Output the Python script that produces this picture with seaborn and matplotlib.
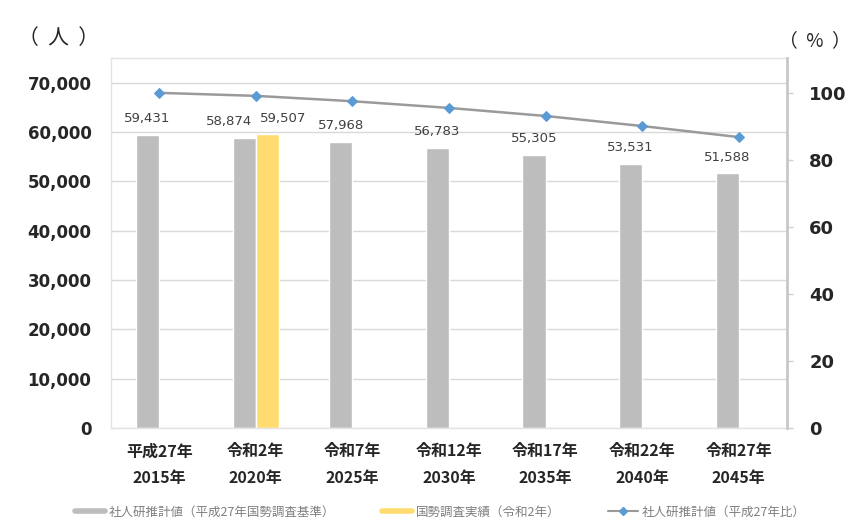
import numpy as np
import pandas as pd
import matplotlib
matplotlib.use("Agg")
import matplotlib.pyplot as plt
from matplotlib.lines import Line2D
import seaborn as sns

# data
categories = ["平成27年\n2015年", "令和2年\n2020年", "令和7年\n2025年", "令和12年\n2030年",
              "令和17年\n2035年", "令和22年\n2040年", "令和27年\n2045年"]
projection = [59431, 58874, 57968, 56783, 55305, 53531, 51588]
census_cat = ["令和2年\n2020年"]
census = [59507]
ratio_pct = [100, 99.1, 97.5, 95.5, 93.1, 90.1, 86.8]

s_proj = "社人研推計値（平成27年国勢調査基準）"
s_census = "国勢調査実績（令和2年）"
s_ratio = "社人研推計値（平成27年比）"

bar_df = pd.concat([
    pd.DataFrame({"cat": categories, "value": projection, "series": s_proj}),
    pd.DataFrame({"cat": census_cat, "value": census, "series": s_census}),
], ignore_index=True)

sns.set_theme(style="white")
plt.rcParams['font.family'] = ['Noto Sans CJK JP', 'DejaVu Sans']

gray = "#bdbdbd"
yellow = "#ffdb70"
line_col = "#9a9a9a"
marker_col = "#5b9bd5"
grid_col = "#d9d9d9"

fig = plt.figure(figsize=(8.53, 5.32), dpi=100)
ax = fig.add_axes([0.130, 0.1955, 0.7926, 0.6955])

sns.barplot(data=bar_df, x="cat", y="value", hue="series", order=categories,
            hue_order=[s_proj, s_census], palette=[gray, yellow],
            width=0.48, dodge=True, saturation=1, legend=False, ax=ax)

ax.set_xlim(-0.5, len(categories) - 0.5)
ax.set_ylim(0, 75000)
ax.set_yticks(np.arange(0, 70001, 10000))
ax.set_yticklabels([f"{v:,}" for v in range(0, 70001, 10000)],
                   family="DejaVu Sans", fontweight="bold", fontsize=12, color="#262626")
ax.yaxis.grid(True, color=grid_col, lw=1)
ax.set_axisbelow(True)
ax.set_xlabel("")
ax.set_ylabel("")
ax.tick_params(axis="y", length=0, pad=14)
ax.tick_params(axis="x", length=0, pad=11)
for lab in ax.get_xticklabels():
    lab.set_fontweight("bold")
    lab.set_fontsize(11.5)
    lab.set_color("#262626")
    lab.set_linespacing(1.85)
    lab.set_verticalalignment("top")
for side in ["left", "top", "bottom"]:
    ax.spines[side].set_color("#e3e3e3")
    ax.spines[side].set_linewidth(1)
ax.spines["right"].set_visible(False)

# data labels on bars (the two 2020 labels are pushed apart)
for i, cont in enumerate(ax.containers):
    for j, rect in enumerate(cont):
        h = rect.get_height()
        if np.isnan(h):
            continue
        cx = rect.get_x() + rect.get_width() / 2
        dx = 0
        if i == 0 and j == 1:
            dx = -11
        if i == 1:
            dx = 11
        ax.annotate(f"{int(h):,}", (cx, h), xytext=(dx, 7), textcoords="offset points",
                    ha="center", va="bottom", fontsize=9.5, family="DejaVu Sans",
                    color="#404040")

ax2 = ax.twinx()
sns.lineplot(x=np.arange(len(categories)), y=ratio_pct, ax=ax2, color=line_col, lw=1.8,
             marker="D", markersize=5.5, markerfacecolor=marker_col,
             markeredgecolor=marker_col)
ax2.set_ylim(0, 110.4)
ax2.set_yticks(range(0, 101, 20))
ax2.set_yticklabels([str(v) for v in range(0, 101, 20)], family="DejaVu Sans",
                    fontweight="bold", fontsize=13, color="#262626")
ax2.tick_params(axis="y", length=4, width=1, color="#d0d0d0", pad=12)
for side in ["left", "top", "bottom"]:
    ax2.spines[side].set_visible(False)
ax2.spines["right"].set_color("#c8c8c8")
ax2.spines["right"].set_linewidth(2)
ax2.set_xlim(-0.5, len(categories) - 0.5)

fig.text(0.021, 0.929, "（  人  ）", fontsize=15, color="#262626", va="center")
fig.text(0.913, 0.923, "（  %  ）", fontsize=13.5, color="#262626", va="center")

legend_items = [
    (Line2D([0], [0], color=gray, lw=4), s_proj, 0.088),
    (Line2D([0], [0], color=yellow, lw=4), s_census, 0.448),
    (Line2D([0], [0], color=line_col, lw=1.5, marker="D", markersize=4,
            markerfacecolor=marker_col, markeredgecolor=marker_col), s_ratio, 0.713),
]
for h, lab, xpos in legend_items:
    fig.legend([h], [lab], loc="center left", bbox_to_anchor=(xpos, 0.0376),
               frameon=False, fontsize=9, labelcolor="#7f7f7f",
               handlelength=2.4, handletextpad=0.3, borderpad=0, borderaxespad=0)

fig.savefig("out.png", dpi=100, facecolor="white")
